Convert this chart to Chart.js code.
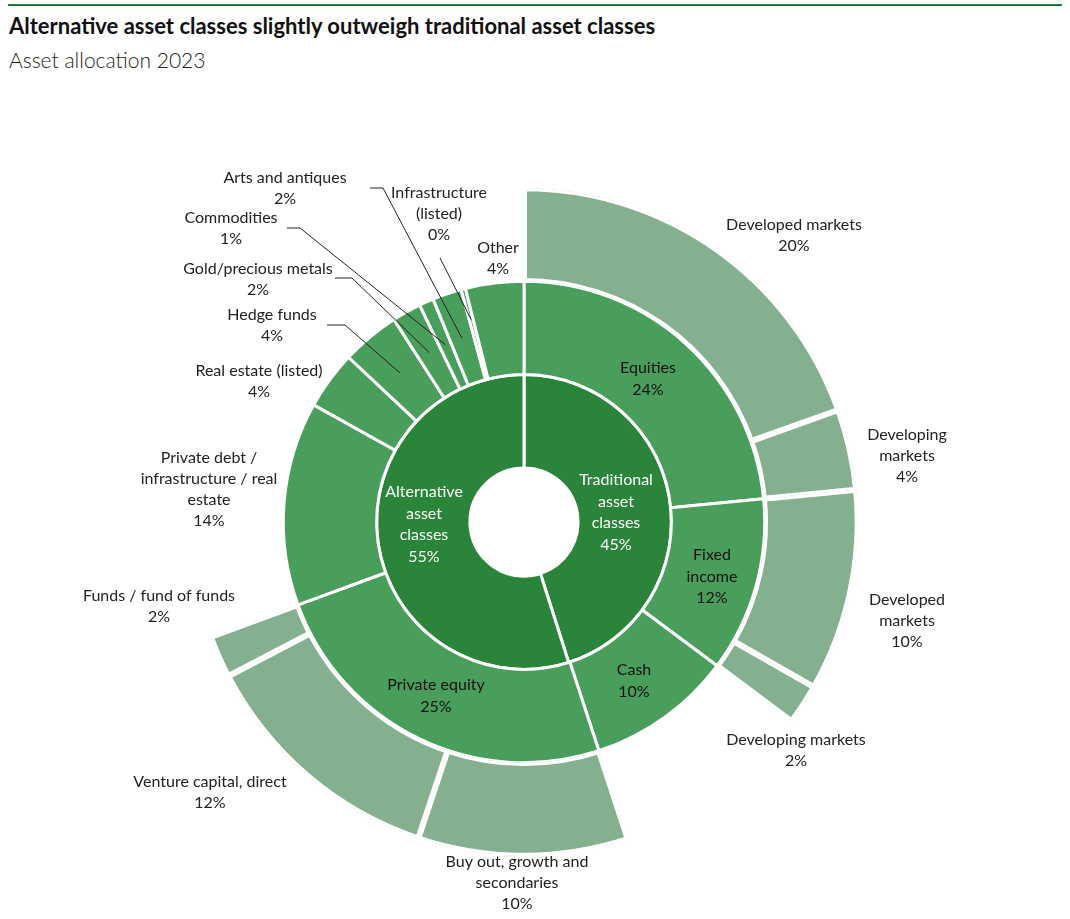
<!DOCTYPE html>
<html><head><meta charset="utf-8">
<script src="https://cdn.jsdelivr.net/npm/chart.js@4/dist/chart.umd.min.js"></script>
<style>
body{margin:0;width:1070px;height:919px;background:#fff;font-family:Lato,"Open Sans",sans-serif;overflow:hidden;position:relative}
#bar{position:absolute;left:8px;top:4px;width:1054px;height:2px;background:#1e7a3c}
#t{position:absolute;left:9px;top:12px;font-size:22px;font-weight:bold;color:#111}
#s{position:absolute;left:9px;top:47px;font-size:21px;font-weight:300;color:#222}
canvas{position:absolute;left:0;top:0}
</style></head><body>
<div id="bar"></div><div id="t">Alternative asset classes slightly outweigh traditional asset classes</div>
<div id="s">Asset allocation 2023</div>
<canvas id="c" width="1070" height="919"></canvas>
<script>
const innerLabels=["Traditional asset classes","Alternative asset classes"];
const innerValues=[46,56];
const innerShown=[45,55];
const midLabels=["Equities","Fixed income","Cash","Private equity","Private debt / infrastructure / real estate","Real estate (listed)","Hedge funds","Gold/precious metals","Commodities","Arts and antiques","Infrastructure (listed)","Other"];
const midValues=[24,12,10,25,14,4,4,2,1,2,0.3,4];
const outerLabels=["Developed markets","Developing markets","Developed markets","Developing markets","(gap)","Buy out, growth and secondaries","Venture capital, direct","Funds / fund of funds","(gap)"];
const outerValues=[20,4,10,2,10,10.4,12.5,2.1,31.3];
const outerShown=[20,4,10,2,null,10,12,2,null];
const outerCol=["#85b08f","#85b08f","#85b08f","#85b08f","rgba(0,0,0,0)","#85b08f","#85b08f","#85b08f","rgba(0,0,0,0)"];

const outsideText=[
 {ds:0,i:0,x:794,y:225,lines:["Developed markets","20%"]},
 {ds:0,i:1,x:907,y:435,lines:["Developing","markets","4%"]},
 {ds:0,i:2,x:907,y:600,lines:["Developed","markets","10%"]},
 {ds:0,i:3,x:796,y:740,lines:["Developing markets","2%"]},
 {ds:0,i:5,x:517,y:862,lines:["Buy out, growth and","secondaries","10%"]},
 {ds:0,i:6,x:210,y:782,lines:["Venture capital, direct","12%"]},
 {ds:0,i:7,x:159,y:596,lines:["Funds / fund of funds","2%"]},
 {ds:1,i:4,x:209,y:458,lines:["Private debt /","infrastructure / real","estate","14%"]},
 {ds:1,i:5,x:259,y:371,lines:["Real estate (listed)","4%"]},
 {ds:1,i:6,x:272,y:315,lines:["Hedge funds","4%"],lead:[327,325,345,325]},
 {ds:1,i:7,x:258,y:269,lines:["Gold/precious metals","2%"],lead:[335,278,352,278]},
 {ds:1,i:8,x:231,y:218,lines:["Commodities","1%"],lead:[287,228,300,228]},
 {ds:1,i:9,x:285,y:178,lines:["Arts and antiques","2%"],lead:[370,188,383,188]},
 {ds:1,i:10,x:439,y:193,lines:["Infrastructure","(listed)","0%"],lead:[440,258,440,258]},
 {ds:1,i:11,x:498,y:248,lines:["Other","4%"]}
];
const insideText=[
 {x:648,y:368,c:"#111",lines:["Equities","24%"]},
 {x:712,y:555,c:"#111",lines:["Fixed","income","12%"]},
 {x:634,y:670,c:"#111",lines:["Cash","10%"]},
 {x:436,y:685,c:"#111",lines:["Private equity","25%"]},
 {x:616,y:480,c:"#fff",lines:["Traditional","asset","classes","45%"]},
 {x:424,y:492,c:"#fff",lines:["Alternative","asset","classes","55%"]}
];
const labelPlugin={id:"lbl",afterDraw(ch){
 const g=ch.ctx;g.save();g.font="16px Lato, 'Open Sans', sans-serif";g.textAlign="center";g.textBaseline="middle";
 outsideText.forEach(o=>{g.fillStyle="#222";o.lines.forEach((l,k)=>g.fillText(l,o.x,o.y+k*21));
  if(o.lead){const a=ch.getDatasetMeta(o.ds).data[o.i];const m=(a.startAngle+a.endAngle)/2;const r=(a.innerRadius+a.outerRadius)/2+(o.i===10?15:0);
   g.strokeStyle="#222";g.lineWidth=1;g.beginPath();g.moveTo(o.lead[0],o.lead[1]);g.lineTo(o.lead[2],o.lead[3]);g.lineTo(a.x+r*Math.cos(m),a.y+r*Math.sin(m));g.stroke();}});
 insideText.forEach(o=>{g.fillStyle=o.c;o.lines.forEach((l,k)=>g.fillText(l,o.x,o.y+k*21.5));});
 g.restore();}};
new Chart(document.getElementById("c"),{type:"doughnut",
 data:{labels:midLabels,datasets:[
  {data:outerValues,backgroundColor:outerCol,borderColor:outerCol.map(c=>c.startsWith("rgba")?"rgba(0,0,0,0)":"#fff"),borderWidth:3,borderAlign:"inner"},
  {data:midValues,backgroundColor:"#4a9e5c",borderColor:"#fff",borderWidth:3},
  {data:innerValues,backgroundColor:"#2a8439",borderColor:"#fff",borderWidth:3}]},
 options:{responsive:false,animation:false,cutout:"16.2%",layout:{padding:{left:190,right:212,top:188,bottom:63}},
  plugins:{legend:{display:false},tooltip:{enabled:false}}},
 plugins:[labelPlugin]});
</script></body></html>
